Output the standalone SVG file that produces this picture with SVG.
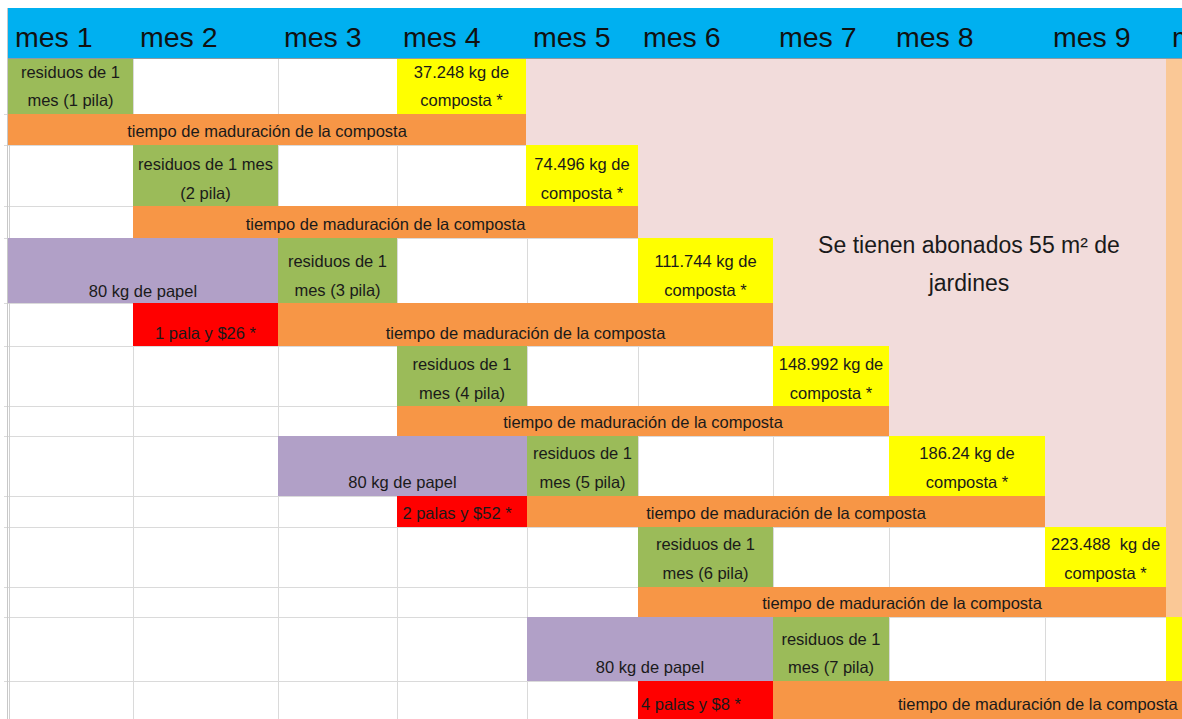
<svg xmlns="http://www.w3.org/2000/svg" width="1182" height="719" viewBox="0 0 1182 719">
<style>
.hd{font-family:"Liberation Sans",Arial,sans-serif;font-size:28.5px;fill:#111}
.t{font-family:"Liberation Sans",Arial,sans-serif;font-size:16.5px;fill:#1a1a1a;text-anchor:middle}
.big{font-family:"Liberation Sans",Arial,sans-serif;font-size:23px;fill:#1a1a1a;text-anchor:middle}
.g{fill:#9BBB59}.y{fill:#FFFF00}.o{fill:#F79646}.p{fill:#B1A0C7}.r{fill:#FF0000}
.grid line{stroke:#DADADA;stroke-width:1}
</style>
<rect x="0" y="0" width="1182" height="719" fill="#FFFFFF"/>
<g id="grid" class="grid">
<line x1="133.5" y1="58" x2="133.5" y2="719"/><line x1="278.5" y1="58" x2="278.5" y2="719"/><line x1="397.5" y1="58" x2="397.5" y2="719"/><line x1="527.5" y1="58" x2="527.5" y2="719"/><line x1="638.5" y1="58" x2="638.5" y2="719"/><line x1="773.5" y1="58" x2="773.5" y2="719"/><line x1="889.5" y1="58" x2="889.5" y2="719"/><line x1="1045.5" y1="58" x2="1045.5" y2="719"/>
<line x1="4" y1="114.5" x2="1182" y2="114.5"/><line x1="4" y1="145.5" x2="1182" y2="145.5"/><line x1="4" y1="206.5" x2="1182" y2="206.5"/><line x1="4" y1="238.5" x2="1182" y2="238.5"/><line x1="4" y1="303.5" x2="1182" y2="303.5"/><line x1="4" y1="346.5" x2="1182" y2="346.5"/><line x1="4" y1="406.5" x2="1182" y2="406.5"/><line x1="4" y1="436.5" x2="1182" y2="436.5"/><line x1="4" y1="496.5" x2="1182" y2="496.5"/><line x1="4" y1="527.5" x2="1182" y2="527.5"/><line x1="4" y1="587.5" x2="1182" y2="587.5"/><line x1="4" y1="617.5" x2="1182" y2="617.5"/><line x1="4" y1="681.5" x2="1182" y2="681.5"/>
<line x1="7.5" y1="8" x2="7.5" y2="719" style="stroke:#C8C8C8"/><line x1="9.5" y1="58" x2="9.5" y2="719" style="stroke:#D0D0D0"/>
</g>
<g id="header">
<rect x="8" y="8" width="1174" height="50" fill="#00B0F0"/>
<line x1="8" y1="58.5" x2="1182" y2="58.5" stroke="#8E9AA0" stroke-width="1"/>
<text class="hd" x="15" y="47">mes 1</text>
<text class="hd" x="140" y="47">mes 2</text>
<text class="hd" x="284" y="47">mes 3</text>
<text class="hd" x="403" y="47">mes 4</text>
<text class="hd" x="533" y="47">mes 5</text>
<text class="hd" x="643" y="47">mes 6</text>
<text class="hd" x="779" y="47">mes 7</text>
<text class="hd" x="896" y="47">mes 8</text>
<text class="hd" x="1053" y="47">mes 9</text>
<text class="hd" x="1172" y="47">m</text>
</g>
<g id="note">
<polygon points="526,59 1166,59 1166,527 1045,527 1045,436 889,436 889,346 773,346 773,238 638,238 638,145 526,145" fill="#F2DCDB"/>
<rect x="1166" y="59" width="16" height="558" fill="#FAC896"/>
<text class="big" x="969" y="253">Se tienen abonados 55 m² de</text>
<text class="big" x="969" y="291">jardines</text>
</g>
<g id="row1">
<rect class="g" x="8" y="59" width="125" height="55"/>
<text class="t" x="70.5" y="78">residuos de 1</text><text class="t" x="70.5" y="106">mes (1 pila)</text>
<rect class="y" x="397" y="59" width="129" height="55"/>
<text class="t" x="461.5" y="78">37.248 kg de</text><text class="t" x="461.5" y="106">composta *</text>
</g>
<g id="row2">
<rect class="o" x="8" y="114" width="518" height="31"/>
<text class="t" x="267" y="137">tiempo de maduración de la composta</text>
</g>
<g id="row3">
<rect class="g" x="133" y="145" width="145" height="61"/>
<text class="t" x="205.5" y="170">residuos de 1 mes</text><text class="t" x="205.5" y="199">(2 pila)</text>
<rect class="y" x="526" y="145" width="112" height="61"/>
<text class="t" x="582" y="170">74.496 kg de</text><text class="t" x="582" y="199">composta *</text>
</g>
<g id="row4">
<rect class="o" x="133" y="206" width="505" height="32"/>
<text class="t" x="385.5" y="230">tiempo de maduración de la composta</text>
</g>
<g id="row5">
<rect class="p" x="8" y="238" width="270" height="65"/>
<text class="t" x="143" y="297">80 kg de papel</text>
<rect class="g" x="278" y="238" width="119" height="65"/>
<text class="t" x="337.5" y="267">residuos de 1</text><text class="t" x="337.5" y="296">mes (3 pila)</text>
<rect class="y" x="638" y="238" width="135" height="65"/>
<text class="t" x="705.5" y="267">111.744 kg de</text><text class="t" x="705.5" y="296">composta *</text>
</g>
<g id="row6">
<rect class="r" x="133" y="303" width="145" height="43"/>
<text class="t" x="205.5" y="339">1 pala y $26 *</text>
<rect class="o" x="278" y="303" width="495" height="43"/>
<text class="t" x="525.5" y="339">tiempo de maduración de la composta</text>
</g>
<g id="row7">
<rect class="g" x="397" y="346" width="130" height="60"/>
<text class="t" x="462" y="370">residuos de 1</text><text class="t" x="462" y="399">mes (4 pila)</text>
<rect class="y" x="773" y="346" width="116" height="60"/>
<text class="t" x="831" y="370">148.992 kg de</text><text class="t" x="831" y="399">composta *</text>
</g>
<g id="row8">
<rect class="o" x="397" y="406" width="492" height="30"/>
<text class="t" x="643" y="428">tiempo de maduración de la composta</text>
</g>
<g id="row9">
<rect class="p" x="278" y="436" width="249" height="60"/>
<text class="t" x="402.5" y="488">80 kg de papel</text>
<rect class="g" x="527" y="436" width="111" height="60"/>
<text class="t" x="582.5" y="459">residuos de 1</text><text class="t" x="582.5" y="488">mes (5 pila)</text>
<rect class="y" x="889" y="436" width="156" height="60"/>
<text class="t" x="967" y="459">186.24 kg de</text><text class="t" x="967" y="488">composta *</text>
</g>
<g id="row10">
<rect class="r" x="397" y="496" width="130" height="31"/>
<text class="t" x="457" y="519">2 palas y $52 *</text>
<rect class="o" x="527" y="496" width="518" height="31"/>
<text class="t" x="786" y="519">tiempo de maduración de la composta</text>
</g>
<g id="row11">
<rect class="g" x="638" y="527" width="135" height="60"/>
<text class="t" x="705.5" y="550">residuos de 1</text><text class="t" x="705.5" y="579">mes (6 pila)</text>
<rect class="y" x="1045" y="527" width="121" height="60"/>
<text class="t" x="1105.5" y="550" style="white-space:pre">223.488  kg de</text><text class="t" x="1105.5" y="579">composta *</text>
</g>
<g id="row12">
<rect class="o" x="638" y="587" width="528" height="30"/>
<text class="t" x="902" y="609">tiempo de maduración de la composta</text>
</g>
<g id="row13">
<rect class="p" x="527" y="617" width="246" height="64"/>
<text class="t" x="650" y="673">80 kg de papel</text>
<rect class="g" x="773" y="617" width="116" height="64"/>
<text class="t" x="831" y="645">residuos de 1</text><text class="t" x="831" y="673">mes (7 pila)</text>
<rect class="y" x="1166" y="617" width="16" height="64"/>
</g>
<g id="row14">
<rect class="r" x="638" y="681" width="135" height="38"/>
<text class="t" x="641" y="710" style="text-anchor:start">4 palas y $8 *</text>
<rect class="o" x="773" y="681" width="409" height="38"/>
<text class="t" x="898" y="710" style="text-anchor:start">tiempo de maduración de la composta</text>
</g>
</svg>
